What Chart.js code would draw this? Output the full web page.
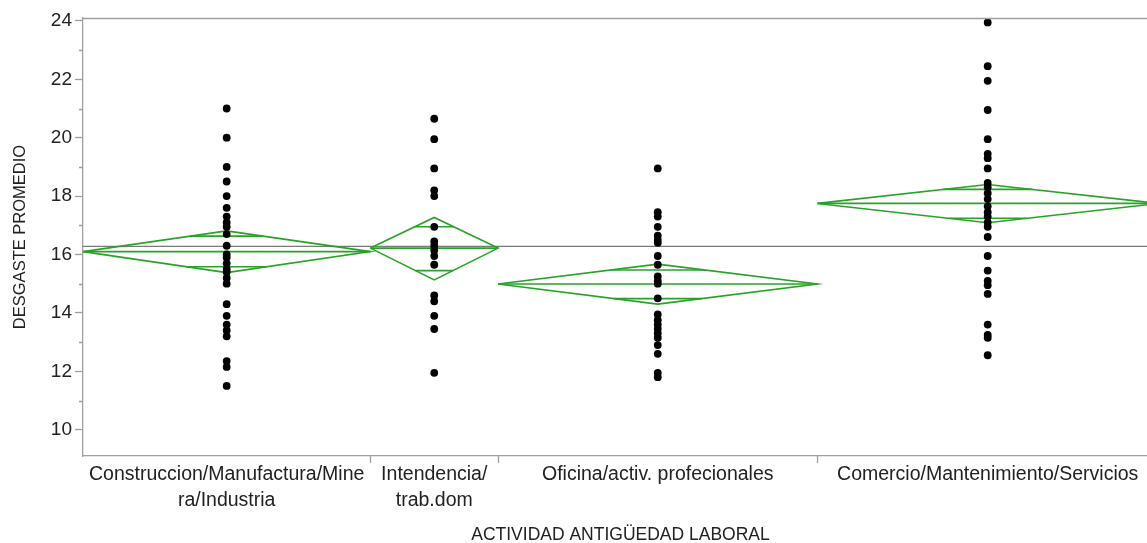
<!DOCTYPE html>
<html>
<head>
<meta charset="utf-8">
<script src="https://cdn.jsdelivr.net/npm/chart.js@4.4.1/dist/chart.umd.min.js"></script>
<style>
  html, body { margin: 0; padding: 0; background: #fff; overflow: hidden; }
  #wrap { width: 1147px; height: 543px; overflow: hidden; }
</style>
</head>
<body>
<div id="wrap"><canvas id="chart" width="1162" height="543"></canvas></div>
<script>
  // ── Data ──────────────────────────────────────────────
  const categories = [
    ['Construccion/Manufactura/Mine', 'ra/Industria'],
    ['Intendencia/', 'trab.dom'],
    'Oficina/activ. profecionales',
    'Comercio/Mantenimiento/Servicios'
  ];
  // group N (sets the width of each group on the x axis)
  const groupN = [27, 12, 30, 32];

  const construccion = [21.0, 20.0, 19.0, 18.5, 18.0, 17.6, 17.3, 17.1, 16.95, 16.7, 16.3, 16.0, 15.9, 15.7, 15.5,
                        15.4, 15.2, 15.0, 14.3, 13.9, 13.6, 13.4, 13.2, 12.35, 12.15, 11.5];
  const intendencia  = [20.65, 19.95, 18.95, 18.2, 18.0, 16.95, 16.45, 16.3, 16.15, 15.95, 15.65, 14.6, 14.4, 13.9,
                        13.45, 11.95];
  const oficina      = [18.95, 17.45, 17.3, 16.95, 16.65, 16.5, 16.4, 15.95, 15.65, 15.25, 15.1, 15.0, 14.5, 13.95,
                        13.75, 13.6, 13.45, 13.3, 13.15, 12.9, 12.6, 11.95, 11.8];
  const comercio     = [23.95, 22.45, 21.95, 20.95, 19.95, 19.45, 19.3, 18.95, 18.45, 18.3, 18.1, 17.9, 17.65, 17.45,
                        17.3, 17.1, 16.95, 16.6, 15.95, 15.45, 15.1, 14.95, 14.65, 13.6, 13.25, 13.15, 12.55];
  const groupValues = [construccion, intendencia, oficina, comercio];

  // means diamonds (mean, 95% CI, overlap marks)
  const means  = [16.1, 16.22, 14.99, 17.75];
  const ciHigh = [16.81, 17.27, 15.67, 18.4];
  const ciLow  = [15.38, 15.13, 14.3, 17.09];
  const ovHigh = [16.63, 16.95, 15.47, 18.23];
  const ovLow  = [15.58, 15.45, 14.49, 17.24];
  const grandMean = 16.28;

  const yTicks = [10, 12, 14, 16, 18, 20, 22, 24];
  const yMinorTicks = [11, 13, 15, 17, 19, 21, 23];

  // ── Build datasets ──────────────────────────────────────
  const GREEN = '#27a327';
  const FONT = "'Liberation Sans', Arial, sans-serif";
  const total = groupN.reduce((a, b) => a + b, 0);
  const lefts = [], centers = [];
  let acc = 0;
  groupN.forEach(n => { lefts.push(acc); centers.push(acc + n / 2); acc += n; });
  const bounds = lefts.slice(1);

  const datasets = [];
  // grand mean line
  datasets.push({ type: 'line', data: [{x: 0, y: grandMean}, {x: total, y: grandMean}],
    borderColor: '#7a7a7a', borderWidth: 1.4, pointRadius: 0, order: 3 });

  groupN.forEach((n, i) => {
    const L = lefts[i], R = L + n, C = centers[i], m = means[i];
    const line = (pts) => ({ type: 'line', data: pts, borderColor: GREEN, borderWidth: 1.6,
      pointRadius: 0, tension: 0, order: 2 });
    datasets.push(line([{x: L, y: m}, {x: C, y: ciHigh[i]}, {x: R, y: m}, {x: C, y: ciLow[i]}, {x: L, y: m}]));
    datasets.push(line([{x: L, y: m}, {x: R, y: m}]));
    const wHi = n / 2 * (1 - (ovHigh[i] - m) / (ciHigh[i] - m));
    const wLo = n / 2 * (1 - (m - ovLow[i]) / (m - ciLow[i]));
    datasets.push(line([{x: C - wHi, y: ovHigh[i]}, {x: C + wHi, y: ovHigh[i]}]));
    datasets.push(line([{x: C - wLo, y: ovLow[i]}, {x: C + wLo, y: ovLow[i]}]));
  });

  groupValues.forEach((vals, i) => {
    datasets.push({ type: 'scatter', data: vals.map(v => ({x: centers[i], y: v})),
      backgroundColor: '#000', borderColor: '#000', borderWidth: 0, pointRadius: 3.9, order: 1 });
  });

  // ── Extra axis marks (minor y ticks, group boundary ticks, top frame) ──
  const axisMarks = {
    id: 'axisMarks',
    afterDraw(chart) {
      const { ctx, chartArea: a, scales: { x, y } } = chart;
      ctx.save();
      ctx.strokeStyle = '#a0a0a0';
      ctx.lineWidth = 1.3;
      ctx.beginPath();
      yMinorTicks.forEach(v => { const py = Math.round(y.getPixelForValue(v)) + 0.5; ctx.moveTo(a.left - 4, py); ctx.lineTo(a.left, py); });
      bounds.forEach(b => { const px = Math.round(x.getPixelForValue(b)) + 0.5; ctx.moveTo(px, a.bottom); ctx.lineTo(px, a.bottom + 7); });
      ctx.moveTo(a.left, a.top + 0.5); ctx.lineTo(a.right, a.top + 0.5);
      ctx.stroke();
      ctx.restore();
    }
  };

  // ── Chart ──────────────────────────────────────────────
  new Chart(document.getElementById('chart').getContext('2d'), {
    type: 'scatter',
    data: { datasets },
    plugins: [axisMarks],
    options: {
      responsive: false, animation: false,
      layout: { padding: { top: 18, right: 2, left: 0, bottom: 0 } },
      plugins: { legend: { display: false }, tooltip: { enabled: false } },
      scales: {
        x: {
          type: 'linear', min: 0, max: total,
          afterBuildTicks: s => { s.ticks = centers.map(c => ({ value: c })); },
          afterFit: s => { s.height = 87; },
          ticks: { autoSkip: false, maxRotation: 0, padding: 6, color: '#222',
                   font: { family: FONT, size: 19.5, lineHeight: 1.33 },
                   callback: (v, i) => categories[i] },
          grid: { drawOnChartArea: false, drawTicks: false },
          border: { color: '#a0a0a0', width: 1.3 },
          title: { display: true, text: 'ACTIVIDAD ANTIGÜEDAD LABORAL', color: '#222',
                   font: { family: FONT, size: 17.5 }, padding: { top: 0, bottom: -3 } }
        },
        y: {
          min: 9.1, max: 24.1,
          afterBuildTicks: s => { s.ticks = yTicks.map(v => ({ value: v })); },
          afterFit: s => { s.width = 83; },
          ticks: { color: '#222', padding: 3, font: { family: FONT, size: 19 } },
          grid: { drawOnChartArea: false, tickLength: 8, tickColor: '#a0a0a0', tickWidth: 1.3 },
          border: { color: '#a0a0a0', width: 1.3 },
          title: { display: true, text: 'DESGASTE PROMEDIO', color: '#222',
                   font: { family: FONT, size: 16.5 }, padding: { top: 11, bottom: 0 } }
        }
      }
    }
  });
</script>
</body>
</html>
